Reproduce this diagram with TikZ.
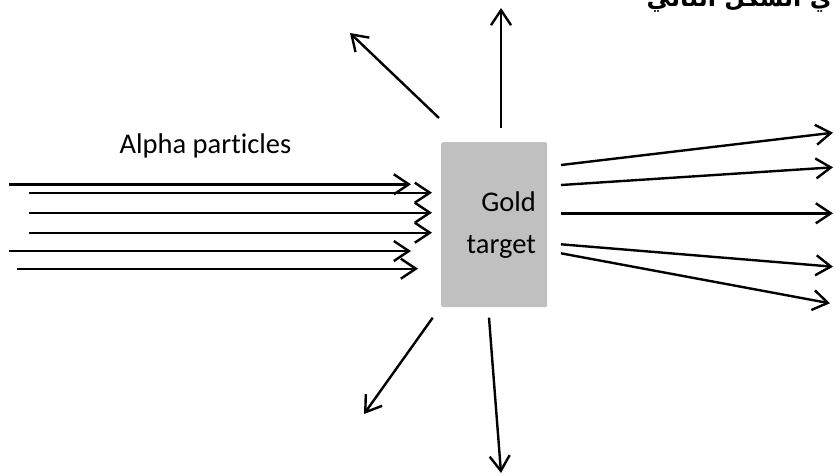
\documentclass[tikz,border=0pt]{standalone}
\usepackage{fontspec}
\setmainfont[Ligatures={NoCommon}]{Carlito}
\newfontfamily\arabicfont[Script=Arabic]{DejaVu Sans}
\TeXXeTstate=1
\usetikzlibrary{arrows.meta}
\begin{document}
\begin{tikzpicture}[x=1pt,y=-1pt,
  ray/.style={line width=2.4pt,-{Straight Barb[length=15pt,width=20pt,line width=2.4pt]}},
  lbl/.style={font=\fontsize{28.5}{41.6}\selectfont,inner sep=0pt}]
\clip (0,0) rectangle (835,475);
\useasboundingbox (0,0) rectangle (835,475);
% target
\node[fill={rgb,255:red,192;green,192;blue,192},rounded corners=2pt,minimum width=106pt,minimum height=165pt,inner sep=0pt,anchor=north west] (box) at (441,142) {};
\node[lbl,align=right,anchor=base east] (gold) at (536,253.3) {Gold\\target};
\node[lbl,anchor=base] (alpha) at (205.5,153) {Alpha particles};
\node[anchor=base east,inner sep=0pt,font=\fontsize{24}{28}\bfseries\arabicfont] (ar) at (832,6) {\beginR ي الشكل التالي\endR};
% incoming
\coordinate (i1s) at (9,184.3);   \coordinate (i1e) at (411,184.3);
\coordinate (i2s) at (29,192.7);  \coordinate (i2e) at (432,192.7);
\coordinate (i3s) at (29,212.7);  \coordinate (i3e) at (432,212.7);
\coordinate (i4s) at (29,232.7);  \coordinate (i4e) at (432,232.7);
\coordinate (i5s) at (9,251);     \coordinate (i5e) at (411,251);
\coordinate (i6s) at (17,268.7);  \coordinate (i6e) at (418,268.7);
\foreach \i in {1,...,6} {\draw[ray] (i\i s) -- (i\i e);}
% outgoing right
\coordinate (o1s) at (561,165);   \coordinate (o1e) at (833,132.7);
\coordinate (o2s) at (561,185);   \coordinate (o2e) at (833,167.3);
\coordinate (o3s) at (561,213.3); \coordinate (o3e) at (833,213.3);
\coordinate (o4s) at (561,244.3); \coordinate (o4e) at (833,266.7);
\coordinate (o5s) at (561,253.3); \coordinate (o5e) at (830,303.3);
\foreach \i in {1,...,5} {\draw[ray] (o\i s) -- (o\i e);}
% scattered
\coordinate (u1s) at (501,128);   \coordinate (u1e) at (501,8);
\coordinate (u2s) at (439,118);   \coordinate (u2e) at (350,33);
\coordinate (d1s) at (432.7,317.7); \coordinate (d1e) at (364,414);
\coordinate (d2s) at (489,317.7); \coordinate (d2e) at (501,473);
\foreach \n in {u1,u2,d1,d2} {\draw[ray] (\n s) -- (\n e);}
\end{tikzpicture}
\end{document}
